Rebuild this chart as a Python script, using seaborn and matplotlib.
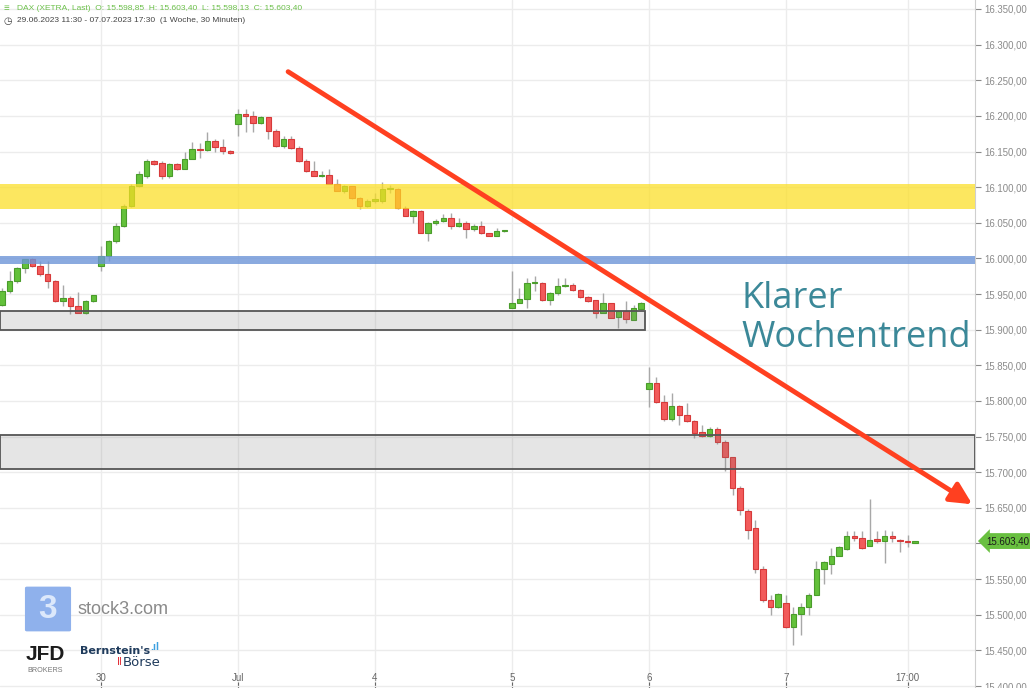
import numpy as np
import pandas as pd
import matplotlib.pyplot as plt
import matplotlib.transforms as mtransforms
from matplotlib.patches import Rectangle, FancyBboxPatch
import seaborn as sns

# 30-min candles, 29.06.2023 11:30 - 07.07.2023 17:30 (13 + 6*18 candles)
opens = [15934, 15954, 15969, 15987, 15999, 15990, 15978, 15969, 15940, 15944, 15933, 15923, 15940,
         15990, 16004, 16024, 16046, 16074, 16102, 16116, 16136, 16134, 16115, 16132, 16126, 16140, 16153, 16152, 16165, 16157, 16151,
         16188, 16203, 16200, 16190, 16198, 16179, 16158, 16168, 16155, 16136, 16123, 16115, 16117, 16105, 16095, 16101, 16085, 16073,
         16081, 16081, 16097, 16097, 16071, 16060, 16067, 16036, 16049, 16052, 16057, 16046, 16050, 16041, 16046, 16035, 16032, 16038,
         15931, 15938, 15943, 15965, 15966, 15941, 15952, 15961, 15962, 15955, 15946, 15941, 15924, 15937, 15918, 15926, 15914, 15929,
         15817, 15825, 15798, 15775, 15793, 15780, 15772, 15756, 15751, 15761, 15742, 15721, 15678, 15646, 15622, 15564, 15520, 15511,
         15517, 15483, 15501, 15511, 15528, 15564, 15571, 15583, 15592, 15611, 15607, 15597, 15606, 15604, 15611, 15605, 15603, 15601]
highs = [15959, 15983, 15988, 15999, 16001, 15996, 15996, 15970, 15962, 15947, 15953, 15941, 15949,
         16018, 16026, 16049, 16076, 16104, 16123, 16140, 16138, 16136, 16134, 16134, 16150, 16164, 16162, 16178, 16168, 16168, 16152,
         16210, 16210, 16207, 16200, 16199, 16181, 16172, 16172, 16158, 16140, 16137, 16123, 16126, 16112, 16103, 16102, 16086, 16083,
         16092, 16107, 16103, 16099, 16074, 16068, 16068, 16051, 16056, 16063, 16064, 16057, 16052, 16048, 16053, 16036, 16043, 16040,
         15983, 15958, 15972, 15975, 15967, 15953, 15972, 15972, 15966, 15957, 15947, 15942, 15952, 15938, 15927, 15940, 15934, 15939,
         15847, 15833, 15808, 15811, 15795, 15797, 15773, 15766, 15763, 15763, 15745, 15722, 15680, 15648, 15633, 15568, 15528, 15531,
         15527, 15511, 15517, 15530, 15576, 15576, 15594, 15596, 15618, 15618, 15618, 15662, 15617, 15619, 15618, 15606, 15612, 15604]
lows = [15933, 15952, 15966, 15979, 15988, 15975, 15958, 15939, 15933, 15922, 15923, 15922, 15939,
        15982, 15996, 16022, 16044, 16072, 16100, 16113, 16131, 16111, 16113, 16124, 16125, 16139, 16141, 16151, 16149, 16146, 16147,
        16172, 16178, 16178, 16188, 16168, 16156, 16155, 16154, 16135, 16121, 16115, 16114, 16104, 16094, 16092, 16084, 16070, 16072,
        16078, 16078, 16092, 16070, 16059, 16049, 16035, 16024, 16047, 16051, 16041, 16044, 16029, 16039, 16034, 16031, 16031, 16037,
        15930, 15937, 15931, 15954, 15940, 15934, 15948, 15960, 15954, 15945, 15939, 15916, 15923, 15916, 15903, 15909, 15913, 15928,
        15791, 15797, 15772, 15772, 15766, 15771, 15748, 15749, 15750, 15740, 15702, 15668, 15640, 15606, 15559, 15518, 15499, 15509,
        15482, 15458, 15471, 15499, 15527, 15543, 15557, 15582, 15591, 15604, 15592, 15596, 15600, 15573, 15602, 15588, 15595, 15600]
closes = [15954, 15969, 15987, 15999, 15990, 15978, 15968, 15940, 15944, 15933, 15924, 15940, 15948,
          16004, 16024, 16046, 16074, 16102, 16119, 16136, 16133, 16115, 16132, 16126, 16140, 16153, 16152, 16165, 16157, 16151, 16148,
          16203, 16200, 16190, 16198, 16179, 16158, 16168, 16155, 16136, 16122, 16116, 16117, 16105, 16095, 16101, 16085, 16073, 16081,
          16083, 16097, 16098, 16071, 16060, 16067, 16036, 16050, 16053, 16057, 16046, 16050, 16041, 16046, 16035, 16032, 16039, 16039,
          15938, 15943, 15966, 15967, 15941, 15952, 15961, 15962, 15955, 15946, 15940, 15924, 15937, 15917, 15926, 15915, 15930, 15938,
          15825, 15798, 15775, 15793, 15780, 15772, 15755, 15751, 15761, 15742, 15721, 15678, 15647, 15619, 15564, 15520, 15511, 15529,
          15483, 15501, 15511, 15528, 15564, 15574, 15583, 15595, 15611, 15607, 15594, 15605, 15604, 15611, 15607, 15603, 15602, 15603.4]

day_ticks = [13, 31, 49, 67, 85, 103, 119]
day_labels = ['30', 'Jul', '4', '5', '6', '7', '17:00']

yellow_zone = (16070, 16104)
blue_zone = (15992, 16004)
box_upper = (15899, 15926)
box_lower = (15705, 15752)
trend_start = (37.6, 16262)
trend_end = (127.5, 15655)
last_price = 15603.40

df = pd.DataFrame({'open': opens, 'high': highs, 'low': lows, 'close': closes})
df['idx'] = np.arange(len(df))
df['up'] = df['close'] >= df['open']

sns.set_style('whitegrid')
plt.rcParams['font.family'] = ['Liberation Sans', 'DejaVu Sans']

fig = plt.figure(figsize=(10.30, 6.88), dpi=100)
ax = fig.add_axes([0, 0, 975 / 1030, 1])

green_face, green_edge = '#63c13a', '#4a9c2b'
red_face, red_edge = '#f25b5b', '#d63a3a'

# wicks
ax.vlines(df['idx'], df['low'], df['high'], color='#a8a8a8', lw=1, zorder=2)
# bodies
for up, face, edge in [(True, green_face, green_edge), (False, red_face, red_edge)]:
    d = df[df['up'] == up]
    bottom = d[['open', 'close']].min(axis=1)
    height = (d['close'] - d['open']).abs().clip(lower=1.2)
    ax.bar(d['idx'], height, bottom=bottom, width=0.72, color=face,
           edgecolor=edge, linewidth=0.8, zorder=3)

# zones
ax.axhspan(*yellow_zone, color='#fcdf23', alpha=0.72, lw=0, zorder=4)
ax.axhspan(*blue_zone, color='#6d95d8', alpha=0.8, lw=0, zorder=4)
x0 = -0.26
ax.add_patch(Rectangle((x0, box_upper[0]), 84.5 - x0, box_upper[1] - box_upper[0],
                       facecolor=(0.5, 0.5, 0.5, 0.2), edgecolor='#555555', lw=1.3, zorder=4))
ax.add_patch(Rectangle((x0, box_lower[0]), 127.86 - x0 - 0.05, box_lower[1] - box_lower[0],
                       facecolor=(0.5, 0.5, 0.5, 0.2), edgecolor='#555555', lw=1.3, zorder=4))

# trend arrow
ax.annotate('', xy=trend_end, xytext=trend_start,
            arrowprops=dict(arrowstyle='-|>,head_length=1.3,head_width=0.65',
                            color='#ff4020', lw=3.5, shrinkA=0, shrinkB=0), zorder=5)

ax.text(97.2, 15916, 'Klarer\nWochentrend', color='#3b8898', fontsize=26,
        family='Open Sans', linespacing=1.12, va='center', ha='left', zorder=6)

ax.set_xlim(-0.26, 127.86)
ax.set_ylim(15397.2, 16362.6)

# axes styling
ax.yaxis.tick_right()
yt = np.arange(15400, 16351, 50)
ax.set_yticks(yt)
ax.set_yticklabels(['' if v == 15600 else
                    f'{v:,.2f}'.replace(',', 'X').replace('.', ',').replace('X', '.') for v in yt])
ax.tick_params(axis='y', colors='#8a8a8a', labelsize=6.9, length=4, width=0.8, pad=3, right=True)
ax.set_xticks(day_ticks)
ax.set_xticklabels(day_labels)
ax.tick_params(axis='x', colors='#666666', labelsize=7, direction='in', length=4, pad=-11, bottom=True)
ax.grid(True, color='#ececec', lw=1)
for s in ['top', 'left', 'bottom']:
    ax.spines[s].set_visible(False)
ax.spines['right'].set_color('#cfcfcf')

# last price tag
trans = mtransforms.blended_transform_factory(ax.transAxes, ax.transData)
ax.text(1.012, last_price, '15.603,40', transform=trans, fontsize=7, color='#1a1a1a',
        va='center', ha='left', zorder=7, clip_on=False,
        bbox=dict(boxstyle='larrow,pad=0.3', fc='#69c040', ec='none'))

# header
fig.text(4 / 1030, 1 - 8 / 688, '\u2261', color='#6cc04a', fontsize=7, va='center', ha='left')
fig.text(17 / 1030, 1 - 8 / 688, 'DAX (XETRA, Last)  O: 15.598,85  H: 15.603,40  L: 15.598,13  C: 15.603,40',
         color='#6cc04a', fontsize=6, va='center', ha='left')
fig.text(4 / 1030, 1 - 21 / 688, '\u25f7', color='#444444', fontsize=7, va='center', ha='left')
fig.text(17 / 1030, 1 - 21 / 688, '29.06.2023 11:30 - 07.07.2023 17:30  (1 Woche, 30 Minuten)',
         color='#444444', fontsize=6, va='center', ha='left')

# logos
fig.patches.append(FancyBboxPatch((27 / 1030, 1 - 630 / 688), 42 / 1030, 42 / 688,
                                  boxstyle='round,pad=0.002', transform=fig.transFigure,
                                  fc='#8fb1ec', ec='none'))
fig.text(48 / 1030, 1 - 609 / 688, '3', color='#dce8fb', fontsize=24, fontweight='bold',
         ha='center', va='center')
fig.text(77 / 1030, 1 - 609 / 688, 'stock3.com', color='#8a8a8a', fontsize=13,
         ha='left', va='center')
fig.text(26 / 1030, 1 - 655 / 688, 'JFD', color='#1c1c1c', fontsize=15, fontweight='bold',
         ha='left', va='center')
fig.text(27 / 1030, 1 - 670 / 688, 'BROKERS', color='#777777', fontsize=5.2,
         ha='left', va='center')
fig.text(80 / 1030, 1 - 651 / 688, "Bernstein's", color='#1f3b5c', fontsize=8, fontweight='bold',
         ha='left', va='center', family='Liberation Sans Narrow')
fig.text(150 / 1030, 1 - 647 / 688, '.ıl', color='#3da0e0', fontsize=7.5, fontweight='bold',
         ha='left', va='center')
fig.text(122 / 1030, 1 - 662 / 688, 'Ⅱ', color='#e0202a', fontsize=7, ha='right', va='center')
fig.text(123 / 1030, 1 - 662 / 688, 'Börse', color='#1f3b5c', fontsize=9.5,
         ha='left', va='center', family='Liberation Sans Narrow')

fig.savefig('out.png', dpi=100)
